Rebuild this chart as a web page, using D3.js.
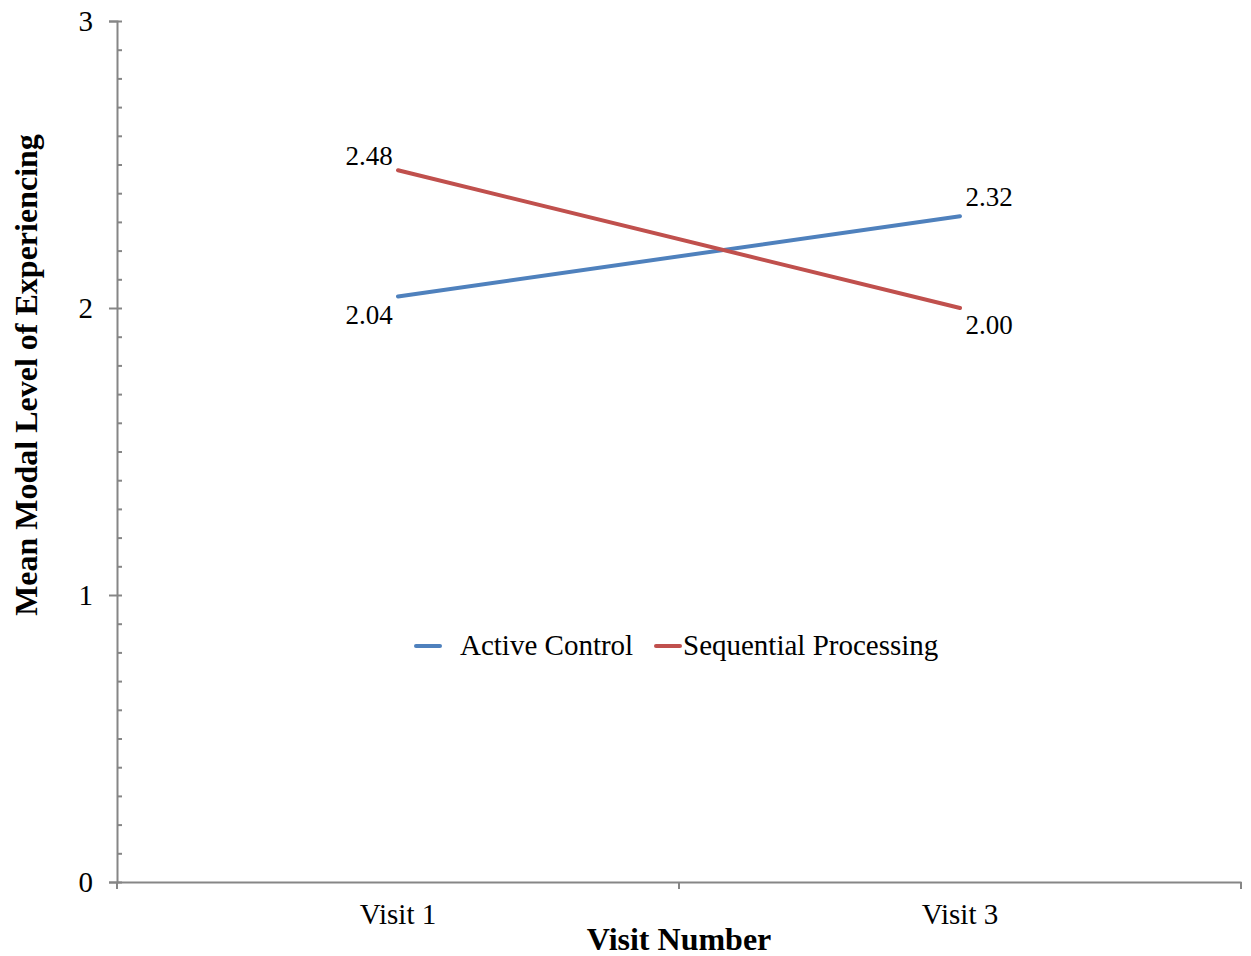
<!DOCTYPE html>
<html>
<head>
<meta charset="UTF-8">
<script src="https://d3js.org/d3.v7.min.js"></script>
<style>
body { margin: 0; background: #fff; }
text { font-family: "Liberation Serif", "Times New Roman", serif; fill: #000; }
</style>
</head>
<body>
<svg id="chart" width="1251" height="956"></svg>
<script>
// datos
var visits = ["Visit 1", "Visit 3"];
var seriesNames = ["Active Control", "Sequential Processing"];
var activeControl = [2.04, 2.32];
var sequential = [2.48, 2.00];
var yTicks = [0, 1, 2, 3];
var colors = ["#4F81BD", "#C0504D"];

var svg = d3.select("#chart"),
	margin = {top: 21, left: 117, bottom: 74, right: 10},
	width = +svg.attr("width"),
	height = +svg.attr("height");

var x = d3.scaleBand()
	.domain(visits)
	.range([margin.left, width - margin.right]);

var y = d3.scaleLinear()
	.domain([0, 3])
	.range([height - margin.bottom, margin.top]);

var axisColor = "#868686";
var serif = "'Liberation Serif', 'Times New Roman', serif";

// eje y: marcas menores hacia dentro
var yAxis = svg.append("g").attr("transform", `translate(${margin.left},0)`);
yAxis.call(d3.axisRight(y).tickValues(d3.range(0, 3.001, 0.1)).tickSize(5).tickFormat(""));
yAxis.select(".domain").remove();
yAxis.selectAll("line").attr("stroke", axisColor).attr("stroke-width", 2);

var yMajor = svg.append("g").attr("transform", `translate(${margin.left},0)`)
	.attr("font-family", serif);
yMajor.call(d3.axisLeft(y).tickValues(yTicks).tickSize(8).tickPadding(16).tickFormat(d3.format("d")));
yMajor.select(".domain").attr("stroke", axisColor).attr("stroke-width", 2);
yMajor.selectAll("line").attr("stroke", axisColor).attr("stroke-width", 2);
yMajor.selectAll("text").style("font-size", "29px").style("font-family", serif);

// eje x
var xAxis = svg.append("g").attr("transform", `translate(0,${y(0)})`)
	.attr("font-family", serif);
xAxis.call(d3.axisBottom(x).tickSize(0).tickPadding(21));
xAxis.select(".domain").attr("stroke", axisColor).attr("stroke-width", 2);
xAxis.selectAll("text").style("font-size", "29px").style("font-family", serif);
// marcas entre categorías
var bounds = visits.map(v => x(v)).concat([x(visits[visits.length - 1]) + x.bandwidth()]);
xAxis.selectAll(".sep").data(bounds).enter().append("line")
	.attr("x1", d => d).attr("x2", d => d)
	.attr("y1", 0).attr("y2", 7)
	.attr("stroke", axisColor).attr("stroke-width", 2);

// líneas
var series = [activeControl, sequential];
var line = d3.line()
	.x((d, i) => x(visits[i]) + x.bandwidth() / 2)
	.y(d => y(d));

series.forEach(function(s, k) {
	svg.append("path")
		.datum(s)
		.attr("fill", "none")
		.attr("stroke", colors[k])
		.attr("stroke-width", 4)
		.attr("stroke-linecap", "round")
		.attr("d", line);
});

// etiquetas de datos
var labelOffsets = [
	[{dx: -29, dy: 27}, {dx: 29, dy: -10}],
	[{dx: -29, dy: -5}, {dx: 29, dy: 26}]
];
series.forEach(function(s, k) {
	svg.selectAll(".lbl" + k).data(s).enter().append("text")
		.attr("x", (d, i) => x(visits[i]) + x.bandwidth() / 2 + labelOffsets[k][i].dx)
		.attr("y", (d, i) => y(d) + labelOffsets[k][i].dy)
		.attr("text-anchor", "middle")
		.style("font-size", "27px")
		.text(d => d3.format(".2f")(d));
});

// leyenda
var legend = svg.append("g").attr("transform", "translate(416,646)");
var legendX = [0, 240];
seriesNames.forEach(function(n, k) {
	legend.append("line")
		.attr("x1", legendX[k]).attr("x2", legendX[k] + 24)
		.attr("y1", 0).attr("y2", 0)
		.attr("stroke", colors[k]).attr("stroke-width", 4)
		.attr("stroke-linecap", "round");
	legend.append("text")
		.attr("x", legendX[k] + (k == 0 ? 44 : 27))
		.attr("y", 9)
		.style("font-size", "29px")
		.text(n);
});

// títulos de ejes
svg.append("text")
	.attr("x", 679)
	.attr("y", 950)
	.attr("text-anchor", "middle")
	.style("font-size", "32px")
	.style("font-weight", "bold")
	.text("Visit Number");

svg.append("text")
	.attr("transform", "translate(37,375) rotate(-90)")
	.attr("text-anchor", "middle")
	.style("font-size", "32px")
	.style("font-weight", "bold")
	.text("Mean Modal Level of Experiencing");
</script>
</body>
</html>
